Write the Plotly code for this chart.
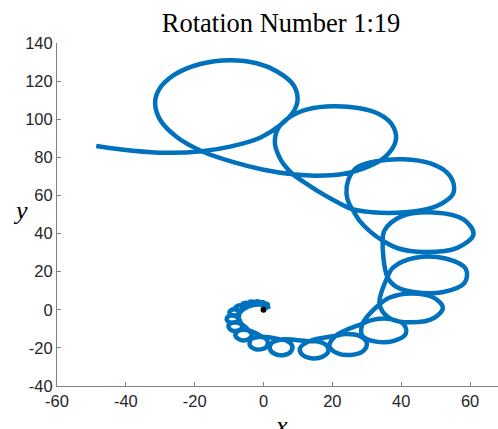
import plotly.graph_objects as go

# Trace of the looping spiral (data units), listed in drawing order
curve_x = [
    -48.6, -38.0, -28.1, -17.9, -9.7, -1.0, 4.8, 8.7, 9.9, 8.7, 3.8, -2.0, -9.7, -18.4, -26.1, -30.5,
    -31.5, -30.0, -25.2, -17.9, -9.0, 0.0, 8.5,
    15.5, 23.0, 30.0, 35.5, 38.5, 37.2, 33.5, 27.5, 20.3, 13.0, 7.7, 4.2, 3.3, 4.5, 6.0, 8.5,
    12.2, 16.4, 20.8, 25.8,
    31.5, 38.6, 46.0, 51.8, 55.0, 55.2, 53.3, 48.5, 40.6, 33.0, 27.0, 24.6, 24.1, 24.8, 25.8,
    28.0, 31.0, 34.6,
    39.0, 46.7, 56.3, 61.0, 58.2, 49.5, 39.9, 35.2, 34.6, 36.0,
    38.6, 43.1, 51.9, 58.4, 58.8, 52.9, 44.1, 37.6, 36.0, 33.7,
    36.7, 43.2, 49.5, 52.1, 49.3, 42.8, 36.5, 33.7, 28.8,
    28.7, 32.7, 37.9, 41.3, 40.9, 36.9, 31.7, 28.8, 21.0,
    19.15, 21.3, 25.4, 29.0, 30.0, 27.9, 23.8, 21.0, 13.3,
    10.6, 11.2, 13.9, 17.05, 18.8, 18.2, 15.5, 13.3, 5.1,
    2.2, 1.9, 3.45, 6.0, 8.0, 8.3, 6.75, 5.1, -0.45,
    -3.7, -3.9, -1.6, 0.9, 1.1, -0.45, -4.25,
    -7.25, -8.2, -6.7, -4.4, -3.4, -4.25, -6.45,
    -8.8, -10.2, -9.5, -7.6, -6.2, -6.45, -7.3,
    -9.0, -10.5, -10.5, -9.0, -7.5, -7.3, -7.0,
    -8.0, -9.4, -9.9, -9.0, -7.6, -7.0, -5.85,
    -6.8, -8.2, -7.2, -5.85, -4.45,
    -4.7, -6.1, -5.7, -4.45, -3.0,
    -2.8, -4.0, -4.0, -3.0, -1.7,
    -1.15, -2.1, -2.45, -1.7, -0.4,
    0.3, -0.35, -0.9, -0.4, 0.55,
    1.3, 0.92, 0.31, 0.55, 1.3, 1.6,
]
curve_y = [
    86.0, 83.5, 82.4, 83.2, 85.6, 90.3, 96.8, 104.0, 110.5, 118.0, 125.2, 129.4, 131.0, 129.0, 123.1, 115.2,
    108.2, 99.6, 90.7, 83.2, 77.6, 73.5, 71.1,
    70.4, 71.3, 74.8, 80.5, 89.5, 97.5, 102.8, 105.9, 106.8, 105.3, 101.2, 95.0, 87.5, 80.5, 76.0, 71.1,
    66.5, 61.6, 57.1, 52.8,
    51.2, 50.9, 52.2, 55.8, 60.6, 66.2, 72.0, 76.8, 79.0, 78.0, 74.5, 68.0, 61.0, 56.0, 52.8,
    46.5, 41.0, 36.3,
    32.3, 30.3, 32.5, 39.6, 47.3, 51.1, 48.9, 41.8, 36.3, 17.2,
    12.0, 9.5, 9.2, 14.1, 21.3, 26.9, 27.3, 22.1, 17.2, 2.9,
    -4.5, -6.6, -4.3, 1.1, 6.5, 8.6, 6.3, 2.9, -7.25,
    -13.6, -16.7, -16.3, -12.7, -8.0, -4.9, -5.3, -7.25, -13.6,
    -19.0, -22.7, -23.7, -21.6, -17.4, -13.7, -12.7, -13.6, -16.5,
    -20.1, -23.5, -25.4, -24.7, -21.9, -18.5, -16.6, -16.5, -15.6,
    -17.8, -20.8, -23.3, -23.7, -21.8, -18.8, -16.3, -15.6, -14.1,
    -15.6, -19.0, -20.9, -19.4, -16.0, -14.1, -10.9,
    -11.0, -13.5, -15.8, -15.4, -12.9, -10.9, -7.5,
    -6.6, -8.3, -10.5, -11.0, -9.3, -7.5, -4.4,
    -3.0, -3.9, -5.8, -6.8, -5.9, -4.4, -1.55,
    0.1, -0.2, -1.7, -2.9, -2.6, -1.55, 0.4,
    2.3, 1.2, -0.3, 0.4, 1.8,
    3.6, 3.1, 1.6, 1.8, 2.5,
    4.05, 4.1, 2.75, 2.5, 2.9,
    4.0, 4.4, 3.4, 2.9, 2.75,
    3.45, 4.05, 3.35, 2.75, 2.2,
    2.57, 3.23, 2.83, 2.2, 1.3, 0.4,
]

# Fixed point at the origin
origin_x = [0]
origin_y = [0]

x_ticks = [-60, -40, -20, 0, 20, 40, 60]
x_tick_text = ["-60", "-40", "-20", "0", "20", "40", "60"]
y_ticks = [-40, -20, 0, 20, 40, 60, 80, 100, 120, 140]
y_tick_text = ["-40", "-20", "0", "20", "40", "60", "80", "100", "120", "140"]

BLUE = "#0072BD"
AXIS = "#808080"
TEXT = "#262626"

fig = go.Figure()
fig.add_trace(go.Scatter(
    x=curve_x, y=curve_y, mode="lines",
    line=dict(color=BLUE, width=4.5, shape="spline", smoothing=1.0),
    hoverinfo="skip",
))
fig.add_trace(go.Scatter(
    x=origin_x, y=origin_y, mode="markers",
    marker=dict(color="black", size=6),
    hoverinfo="skip",
))

axis_common = dict(
    showline=True, linecolor=AXIS, linewidth=1,
    ticks="inside", ticklen=4, tickcolor=AXIS, tickwidth=1,
    showgrid=False, zeroline=False, mirror=False,
    tickfont=dict(family="Liberation Sans", size=16.5, color=TEXT),
)

fig.update_layout(
    width=498, height=429,
    margin=dict(l=57, r=0, t=43, b=43),
    paper_bgcolor="white", plot_bgcolor="white",
    showlegend=False,
    xaxis=dict(range=[-60, 68.12], tickvals=x_ticks, ticktext=x_tick_text, **axis_common),
    yaxis=dict(range=[-40, 140], tickvals=y_ticks, ticktext=y_tick_text, **axis_common),
    title=dict(
        text="Rotation Number 1:19",
        font=dict(family="Liberation Serif", size=26.5, color="black"),
        x=0.508, xanchor="center", xref="paper",
        y=1 - 23 / 429, yanchor="middle", yref="container",
    ),
    annotations=[
        dict(text="<i>x</i>", xref="paper", yref="paper", x=0.508, y=-0.066,
             xanchor="center", yanchor="top", showarrow=False,
             font=dict(family="Liberation Serif", size=26, color="black")),
        dict(text="<i>y</i>", xref="paper", yref="paper", x=-0.083, y=0.512,
             xanchor="center", yanchor="middle", showarrow=False,
             font=dict(family="Liberation Serif", size=26, color="black")),
    ],
)

fig.write_html("out.html")
